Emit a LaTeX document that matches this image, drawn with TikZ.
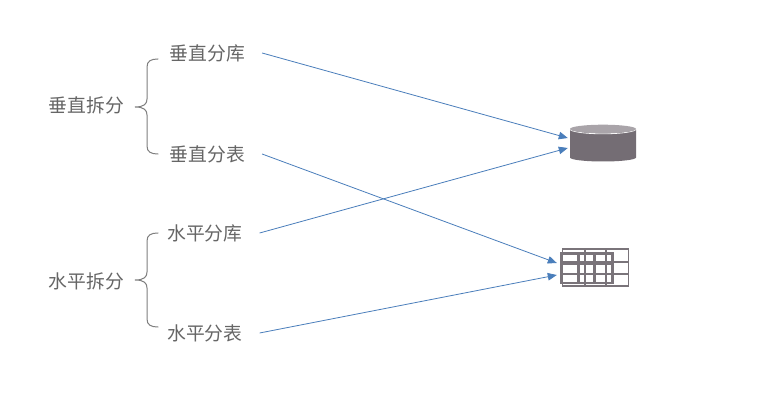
\documentclass[tikz,border=0pt]{standalone}
\usepackage{fontspec}
\setmainfont{Noto Sans CJK SC}
\usetikzlibrary{arrows.meta}
\definecolor{txt}{HTML}{666666}
\definecolor{brc}{HTML}{7F7F7F}
\definecolor{lnk}{HTML}{4A7EBB}
\definecolor{dbbody}{HTML}{746D74}
\definecolor{dbtop}{HTML}{A9A4A9}
\definecolor{grd}{HTML}{7A747A}
\tikzset{
  lbl/.style={text=txt,font=\fontsize{18.8pt}{21pt}\selectfont,inner ysep=0pt,inner xsep=17pt},
  brc/.style={draw=brc,line width=1pt,line cap=round},
  lnkline/.style={draw=lnk,line width=0.8pt,-{Triangle[length=9pt,width=7.5pt]}},
  anchorbox/.style={inner sep=0pt,minimum width=#1,minimum height=38pt},
  gridthin/.style={draw=grd,line width=1.5pt},
  gridthick/.style={draw=grd,line width=2.4pt}
}
\begin{document}
\begin{tikzpicture}[x=1pt,y=-1pt]
\useasboundingbox (0,0) rectangle (784,403);
\fill[white] (0,0) rectangle (784,403);
% labels
\node[lbl] (vs) at (86.5,105) {垂直拆分};
\node[lbl] (hs) at (86.5,281) {水平拆分};
\node[lbl] (vdb) at (207.3,53) {垂直分库};
\node[lbl] (vtb) at (207.3,154) {垂直分表};
\node[lbl] (hdb) at (204.8,233) {水平分库};
\node[lbl] (htb) at (204.8,333) {水平分表};
% braces
\coordinate (b1t) at (158,59); \coordinate (b1m) at (135,107); \coordinate (b1b) at (158,154);
\coordinate (b2t) at (158,233); \coordinate (b2m) at (135,280); \coordinate (b2b) at (158,327);
\draw[brc] (b1t) .. controls (151,59) and (147,61) .. (147,67) -- (147,99)
  .. controls (147,104) and (144,107) .. (b1m)
  .. controls (144,107) and (147,110) .. (147,115) -- (147,146)
  .. controls (147,152) and (151,154) .. (b1b);
\draw[brc] (b2t) .. controls (151,233) and (147,235) .. (147,241) -- (147,272)
  .. controls (147,277) and (144,280) .. (b2m)
  .. controls (144,280) and (147,283) .. (147,288) -- (147,319)
  .. controls (147,325) and (151,327) .. (b2b);
% cylinder
\fill[dbbody] (570,130) -- (570,157.5) arc[start angle=180,end angle=0,x radius=33,y radius=4] -- (636,130) -- cycle;
\draw[white,line width=0.8pt] (570,129) arc[start angle=180,end angle=0,x radius=33,y radius=4.8];
\fill[dbtop] (603,129) ellipse[x radius=33,y radius=4.3];
\node[anchorbox=70pt] (db) at (603,143) {};
% table
\draw[gridthin] (562.5,249) rectangle (628.5,286);
\draw[gridthin] (562.5,262) -- (628.5,262);
\draw[gridthin] (562.5,274) -- (628.5,274);
\draw[gridthin] (585,249) -- (585,286);
\draw[gridthin] (606,249) -- (606,286);
\draw[gridthick] (561,253.5) rectangle (612.5,283);
\draw[gridthick] (561,263.5) -- (612.5,263.5);
\draw[gridthick] (561,274) -- (612.5,274);
\draw[gridthick] (578.5,253.5) -- (578.5,283);
\draw[gridthick] (594.5,253.5) -- (594.5,283);
\node[anchorbox=76pt] (tb) at (595,268) {};
% links
\draw[lnkline] (vdb.east) -- ([yshift=5pt]db.west);
\draw[lnkline] (vtb.east) -- ([yshift=5pt]tb.west);
\draw[lnkline] (hdb.east) -- ([yshift=-5pt]db.west);
\draw[lnkline] (htb.east) -- ([yshift=-7pt]tb.west);
\end{tikzpicture}
\end{document}
